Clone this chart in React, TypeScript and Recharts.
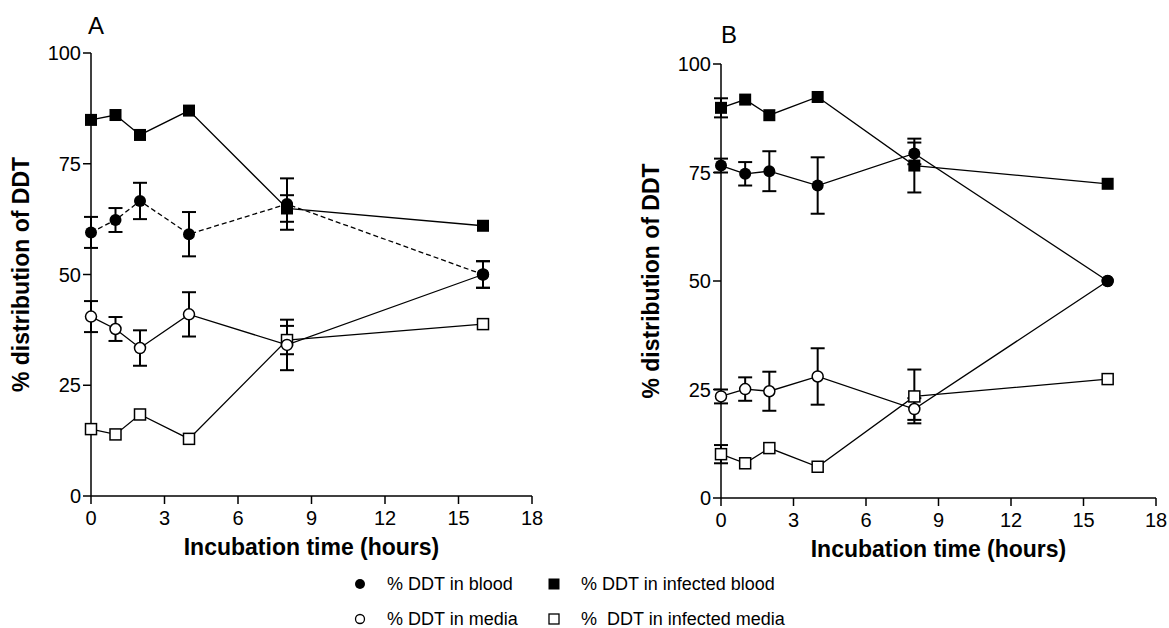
import { LineChart, Line, XAxis, YAxis, ErrorBar } from "recharts";

// incubation times (hours)
const hours = [0, 1, 2, 4, 8, 16];
const xTicks = [0, 3, 6, 9, 12, 15, 18];
const yTicks = [0, 25, 50, 75, 100];

// panel A
const bloodA = [59.5, 62.3, 66.6, 59.1, 65.9, 50.0];
const bloodErrA = [3.5, 2.7, 4.1, 5.0, 5.8, 3.0];
const mediaA = [40.5, 37.7, 33.4, 41.0, 34.1, 50.0];
const mediaErrA = [3.5, 2.7, 4.0, 5.0, 5.7, 3.0];
const infBloodA = [84.9, 86.0, 81.5, 87.0, 64.9, 61.0];
const infBloodErrA = [0, 0, 0, 0, 3.0, 0];
const infMediaA = [15.1, 13.9, 18.4, 12.9, 35.2, 38.8];
const infMediaErrA = [0, 0, 0, 0, 3.2, 0];

// panel B
const bloodB = [76.6, 74.7, 75.3, 72.0, 79.4, 50.0];
const bloodErrB = [1.6, 2.7, 4.6, 6.5, 2.5, 0];
const mediaB = [23.4, 25.1, 24.6, 28.0, 20.5, 50.0];
const mediaErrB = [1.6, 2.7, 4.5, 6.5, 2.5, 0];
const infBloodB = [89.9, 91.8, 88.2, 92.4, 76.6, 72.4];
const infBloodErrB = [2.2, 0, 0, 0, 6.2, 0];
const infMediaB = [10.1, 8.0, 11.5, 7.2, 23.4, 27.4];
const infMediaErrB = [2.1, 0, 0, 0, 6.2, 0];

const FONT = "'Liberation Sans', Arial, sans-serif";

const buildRows = (
  blood: number[], bloodErr: number[], media: number[], mediaErr: number[],
  infBlood: number[], infBloodErr: number[], infMedia: number[], infMediaErr: number[]
) =>
  hours.map((h, i) => ({
    h,
    blood: blood[i], bloodErr: bloodErr[i],
    media: media[i], mediaErr: mediaErr[i],
    infBlood: infBlood[i], infBloodErr: infBloodErr[i],
    infMedia: infMedia[i], infMediaErr: infMediaErr[i],
  }));

const rowsA = buildRows(bloodA, bloodErrA, mediaA, mediaErrA, infBloodA, infBloodErrA, infMediaA, infMediaErrA);
const rowsB = buildRows(bloodB, bloodErrB, mediaB, mediaErrB, infBloodB, infBloodErrB, infMediaB, infMediaErrB);

const filledCircle = (p: any) => (
  <circle key={`fc-${p.index}`} cx={p.cx} cy={p.cy} r={6} fill="#000" />
);
const openCircle = (p: any) => (
  <circle key={`oc-${p.index}`} cx={p.cx} cy={p.cy} r={5.5} fill="#fff" stroke="#000" strokeWidth={1.5} />
);
const filledSquare = (p: any) => (
  <rect key={`fs-${p.index}`} x={p.cx - 6} y={p.cy - 6} width={12} height={12} fill="#000" />
);
const openSquare = (p: any) => (
  <rect key={`os-${p.index}`} x={p.cx - 5.5} y={p.cy - 5.5} width={11} height={11} fill="#fff" stroke="#000" strokeWidth={1.5} />
);

const errProps = { width: 7, stroke: "#000", strokeWidth: 2, direction: "y" as const };

interface PanelProps {
  rows: typeof rowsA;
  left: number;
  top: number;
  width: number;
  height: number;
  marginTop: number;
  marginRight: number;
  dashedBlood?: boolean;
}

const Panel = ({ rows, left, top, width, height, marginTop, marginRight, dashedBlood }: PanelProps) => (
  <div style={{ position: "absolute", left, top }}>
    <LineChart
      width={width}
      height={height}
      data={rows}
      margin={{ top: marginTop, right: marginRight, bottom: 0, left: 0 }}
      style={{ fontFamily: FONT }}
    >
      <XAxis
        dataKey="h"
        type="number"
        domain={[0, 18]}
        ticks={xTicks}
        height={74}
        stroke="#000"
        strokeWidth={1.5}
        tickSize={8}
        tickMargin={7}
        tick={{ fill: "#000", fontSize: 20 }}
        label={{
          value: "Incubation time (hours)",
          position: "insideBottom",
          offset: 15,
          style: { fontWeight: "bold", fontSize: 23, fill: "#000" },
        }}
      />
      <YAxis
        type="number"
        domain={[0, 100]}
        ticks={yTicks}
        width={91}
        stroke="#000"
        strokeWidth={1.5}
        tickSize={8}
        tickMargin={2}
        tick={{ fill: "#000", fontSize: 20 }}
        label={{
          value: "% distribution of DDT",
          angle: -90,
          position: "insideLeft",
          offset: 21,
          style: { fontWeight: "bold", fontSize: 23, fill: "#000", textAnchor: "middle" },
        }}
      />
      <Line dataKey="infBlood" type="linear" stroke="#000" strokeWidth={1.3} dot={filledSquare} isAnimationActive={false}>
        <ErrorBar dataKey="infBloodErr" {...errProps} />
      </Line>
      <Line dataKey="infMedia" type="linear" stroke="#000" strokeWidth={1.3} dot={openSquare} isAnimationActive={false}>
        <ErrorBar dataKey="infMediaErr" {...errProps} />
      </Line>
      <Line dataKey="media" type="linear" stroke="#000" strokeWidth={1.3} dot={openCircle} isAnimationActive={false}>
        <ErrorBar dataKey="mediaErr" {...errProps} />
      </Line>
      <Line
        dataKey="blood"
        type="linear"
        stroke="#000"
        strokeWidth={1.3}
        strokeDasharray={dashedBlood ? "5 3" : undefined}
        dot={filledCircle}
        isAnimationActive={false}
      >
        <ErrorBar dataKey="bloodErr" {...errProps} />
      </Line>
    </LineChart>
  </div>
);

const textStyle = { position: "absolute" as const, fontFamily: FONT, color: "#000", whiteSpace: "pre" as const };

const LegendItem = ({ x, y, marker, label }: { x: number; y: number; marker: string; label: string }) => (
  <>
    <svg style={{ position: "absolute", left: x - 20, top: y - 10 }} width={20} height={20}>
      {marker === "fc" && <circle cx={10} cy={10} r={5} fill="#000" />}
      {marker === "oc" && <circle cx={10} cy={10} r={4.5} fill="#fff" stroke="#000" strokeWidth={1.3} />}
      {marker === "fs" && <rect x={4.5} y={4.5} width={11} height={11} fill="#000" />}
      {marker === "os" && <rect x={5} y={5} width={10} height={10} fill="#fff" stroke="#000" strokeWidth={1.3} />}
    </svg>
    <div style={{ ...textStyle, left: x + 17, top: y - 8, fontSize: 18, lineHeight: "16px" }}>{label}</div>
  </>
);

export default function App() {
  return (
    <div style={{ position: "absolute", left: 0, top: 0, width: 1169, height: 628, background: "#fff", overflow: "hidden" }}>
      <Panel rows={rowsA} left={0} top={0} width={560} height={570} marginTop={53} marginRight={28} dashedBlood />
      <Panel rows={rowsB} left={630} top={0} width={539} height={572} marginTop={64} marginRight={13} />
      <div style={{ ...textStyle, left: 88, top: 14, fontSize: 24, lineHeight: "24px" }}>A</div>
      <div style={{ ...textStyle, left: 721, top: 23, fontSize: 24, lineHeight: "24px" }}>B</div>
      <LegendItem x={370} y={584} marker="fc" label="% DDT in blood" />
      <LegendItem x={564} y={584} marker="fs" label="% DDT in infected blood" />
      <LegendItem x={370} y={619} marker="oc" label="% DDT in media" />
      <LegendItem x={564} y={619} marker="os" label="%  DDT in infected media" />
    </div>
  );
}
